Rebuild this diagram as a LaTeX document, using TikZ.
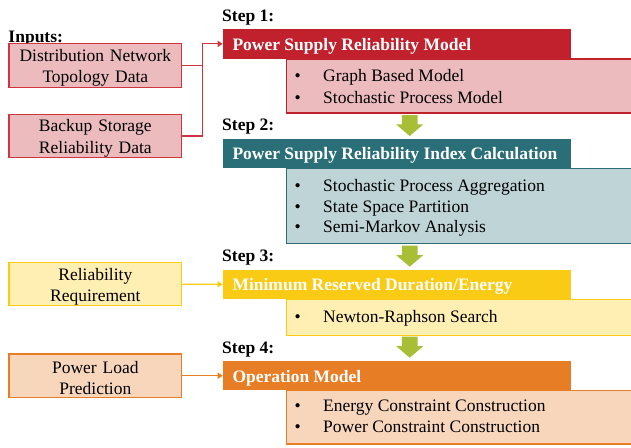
\documentclass[tikz,border=0pt]{standalone}
\usepackage{fontspec}
\setmainfont{Liberation Serif}
\usetikzlibrary{arrows.meta}
\definecolor{redH}{HTML}{C0212D}
\definecolor{redL}{HTML}{EBBBBE}
\definecolor{redB}{HTML}{D0343F}
\definecolor{tealH}{HTML}{2A6F77}
\definecolor{tealL}{HTML}{BED4D7}
\definecolor{goldH}{HTML}{F9CB14}
\definecolor{goldL}{HTML}{FFEFB3}
\definecolor{orgH}{HTML}{E77D24}
\definecolor{orgL}{HTML}{F8D6BC}
\definecolor{grn}{HTML}{A9BE37}
\begin{document}
\begin{tikzpicture}[x=1pt,y=-1pt,
  hdr/.style={anchor=north west, minimum width=348.3pt, inner sep=0pt},
  hdrtxt/.style={anchor=base west, inner sep=0pt, font=\fontsize{17.5}{21}\selectfont\bfseries, text=white},
  cbox/.style={anchor=north west, draw, line width=1.2pt, minimum width=360pt, inner sep=0pt},
  inbox/.style={draw, line width=1.2pt, minimum width=172.7pt, inner sep=0pt},
  intxt/.style={inner sep=0pt, text width=170pt, align=center, font=\fontsize{17.5}{21.5}\selectfont},
  steplbl/.style={anchor=base west, inner sep=0pt, font=\fontsize{17.5}{21}\selectfont\bfseries},
  bul/.style={anchor=base, inner sep=0pt, font=\fontsize{17.5}{21}\selectfont},
  item/.style={anchor=base west, inner sep=0pt, font=\fontsize{17.5}{21}\selectfont},
  line/.style={line width=1.2pt},
  conn/.style={line width=1.2pt, -{Triangle[length=5pt,width=6pt]}},
  garrow/.style={fill=grn, draw=none}
]
\clip (0,0) rectangle (631,447);
\useasboundingbox (0,0) rectangle (631,447);

% content boxes
\node[cbox, draw=redH, fill=redL, minimum height=54pt] (c1) at (286,58.3) {};
\node[cbox, draw=tealH, fill=tealL, minimum height=75pt] (c2) at (286,167.7) {};
\node[cbox, draw=goldH, fill=goldL, minimum height=35.7pt] (c3) at (286,299) {};
\node[cbox, draw=orgH, fill=orgL, minimum height=53.3pt] (c4) at (286,390) {};

% headers
\node[hdr, fill=redH, minimum height=29.3pt] (h1) at (222.7,29) {};
\node[hdr, fill=tealH, minimum height=29.4pt] (h2) at (222.7,138.3) {};
\node[hdr, fill=goldH, minimum height=29.7pt] (h3) at (222.7,269.3) {};
\node[hdr, fill=orgH, minimum height=29pt] (h4) at (222.7,361) {};
\node[hdrtxt] (h1t) at (232.3,50.5) {Power Supply Reliability Model};
\node[hdrtxt] (h2t) at (232.3,159.8) {Power Supply Reliability Index Calculation};
\node[hdrtxt] (h3t) at (232.3,290.8) {Minimum Reserved Duration/Energy};
\node[hdrtxt] (h4t) at (232.3,382.2) {Operation Model};

% step labels
\node[steplbl] (s1) at (222,21.5) {Step 1:};
\node[steplbl] (s2) at (222,130) {Step 2:};
\node[steplbl] (s3) at (222,261.5) {Step 3:};
\node[steplbl] (s4) at (222,353) {Step 4:};
\node[steplbl] (inl) at (8.3,42) {Inputs:};

% items
\node[bul] (b11) at (297.7,81.5) {•};
\node[item] (t11) at (323,81.5) {Graph Based Model};
\node[bul] (b12) at (297.7,103.1) {•};
\node[item] (t12) at (323,103.1) {Stochastic Process Model};

\node[bul] (b21) at (297.7,191.5) {•};
\node[item] (t21) at (323,191.5) {Stochastic Process Aggregation};
\node[bul] (b22) at (297.7,212.2) {•};
\node[item] (t22) at (323,212.2) {State Space Partition};
\node[bul] (b23) at (297.7,232.8) {•};
\node[item] (t23) at (323,232.8) {Semi-Markov Analysis};

\node[bul] (b31) at (297.7,322.5) {•};
\node[item] (t31) at (323,322.5) {Newton-Raphson Search};

\node[bul] (b41) at (297.7,411.2) {•};
\node[item] (t41) at (323,411.2) {Energy Constraint Construction};
\node[bul] (b42) at (297.7,432.8) {•};
\node[item] (t42) at (323,432.8) {Power Constraint Construction};

% input boxes
\node[inbox, draw=redB, fill=redL, minimum height=44pt] (in1) at (95.35,65.3) {};
\node[inbox, draw=redB, fill=redL, minimum height=43.4pt] (in2) at (95.35,136) {};
\node[inbox, draw=goldH, fill=goldL, minimum height=43pt] (in3) at (95.35,284.2) {};
\node[inbox, draw=orgH, fill=orgL, minimum height=43.3pt] (in4) at (95.35,375.7) {};
\node[intxt] (in1t) at ([yshift=-2.5pt]in1.center) {Distribution Network\\Topology Data};
\node[intxt] (in2t) at ([yshift=-2.5pt]in2.center) {Backup Storage\\Reliability Data};
\node[intxt] (in3t) at ([yshift=-2.5pt]in3.center) {Reliability\\Requirement};
\node[intxt] (in4t) at ([yshift=-2.5pt]in4.center) {Power Load\\Prediction};

% connectors
\coordinate (j1) at (202.3,65.3);
\draw[conn, draw=redB] (in1.east) -- (j1) |- (h1.west);
\draw[line, draw=redB] (in2.east) -| (j1);
\draw[conn, draw=goldH] (in3.east) -- (h3.west);
\draw[conn, draw=orgH] (in4.east) -- (h4.west);

% green block arrows
\coordinate (a1) at (409.7,115);
\coordinate (a2) at (409.7,245.7);
\coordinate (a3) at (409.7,336.7);
\foreach \a in {a1,a2,a3}{
  \fill[garrow] (\a) ++(-7.8,0) -- ++(15.6,0) -- ++(0,9.3) -- ++(5.9,0) -- ++(-13.7,11.7) -- ++(-13.7,-11.7) -- ++(5.9,0) -- cycle;
}
\end{tikzpicture}
\end{document}
